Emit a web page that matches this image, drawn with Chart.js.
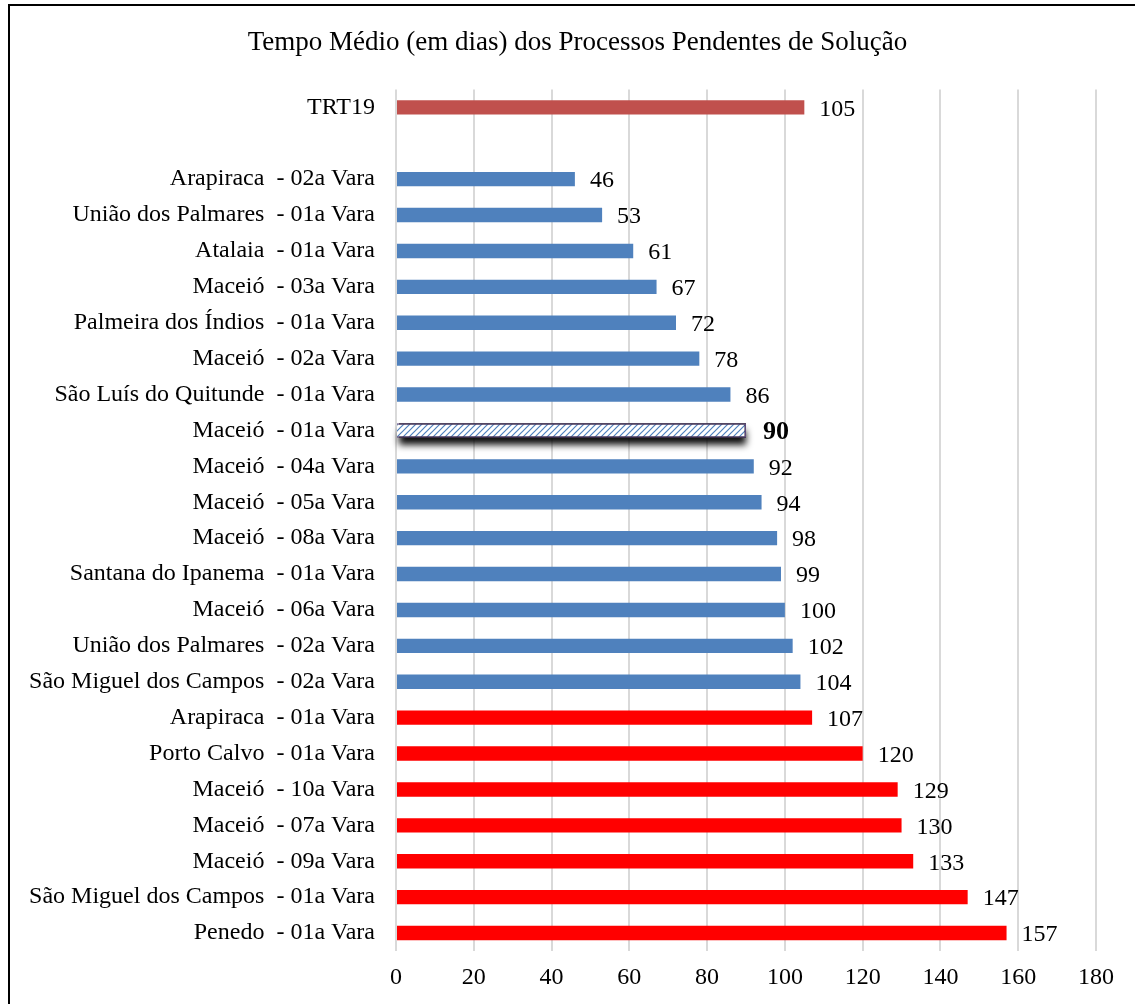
<!DOCTYPE html>
<html>
<head>
<meta charset="utf-8">
<script src="https://cdn.jsdelivr.net/npm/chart.js@4/dist/chart.umd.min.js"></script>
<style>
  html, body { margin: 0; padding: 0; background: #fff; overflow: hidden; }
  #wrap { position: absolute; left: 0; top: 0; width: 1155px; height: 1004px; }
  #frame { position: absolute; left: 8px; top: 4px; width: 1300px; height: 1100px;
           border-left: 2px solid #000; border-top: 2px solid #000; }
</style>
</head>
<body>
<div id="frame"></div>
<div id="wrap"><canvas id="myChart" width="1155" height="1004"></canvas></div>
<script>
// dados
const labels = [
    'TRT19', '',
    'Arapiraca  - 02a Vara',
    'União dos Palmares  - 01a Vara',
    'Atalaia  - 01a Vara',
    'Maceió  - 03a Vara',
    'Palmeira dos Índios  - 01a Vara',
    'Maceió  - 02a Vara',
    'São Luís do Quitunde  - 01a Vara',
    'Maceió  - 01a Vara',
    'Maceió  - 04a Vara',
    'Maceió  - 05a Vara',
    'Maceió  - 08a Vara',
    'Santana do Ipanema  - 01a Vara',
    'Maceió  - 06a Vara',
    'União dos Palmares  - 02a Vara',
    'São Miguel dos Campos  - 02a Vara',
    'Arapiraca  - 01a Vara',
    'Porto Calvo  - 01a Vara',
    'Maceió  - 10a Vara',
    'Maceió  - 07a Vara',
    'Maceió  - 09a Vara',
    'São Miguel dos Campos  - 01a Vara',
    'Penedo  - 01a Vara'
];
const values = [105, null, 46, 53, 61, 67, 72, 78, 86, 90, 92, 94, 98, 99, 100, 102, 104,
    107, 120, 129, 130, 133, 147, 157];
const xTicks = [0, 20, 40, 60, 80, 100, 120, 140, 160, 180];
const highlight = 'Maceió  - 01a Vara';

const serif = '"Liberation Serif", "Times New Roman", serif';

// padrão hachurado para a vara destacada
function makeHatch() {
    const c = document.createElement('canvas');
    c.width = 6; c.height = 6;
    const g = c.getContext('2d');
    g.fillStyle = '#ffffff';
    g.fillRect(0, 0, 6, 6);
    g.strokeStyle = '#4F81BD';
    g.lineWidth = 1.2;
    g.beginPath();
    g.moveTo(-1, 7); g.lineTo(7, -1);
    g.moveTo(-4, 4); g.lineTo(4, -4);
    g.moveTo(2, 10); g.lineTo(10, 2);
    g.stroke();
    return g.createPattern(c, 'repeat');
}
const hatch = makeHatch();

const colors = values.map((v, i) => {
    if (i === 0) return '#C0504D';
    if (labels[i] === highlight) return hatch;
    if (v > 105) return '#FF0000';
    return '#4F81BD';
});
const borders = labels.map(l => l === highlight ? '#5F497A' : 'rgba(0,0,0,0)');
const borderW = labels.map(l => l === highlight ? 1.5 : 0);

// sombra sob a barra destacada
const shadowPlugin = {
    id: 'shadowBar',
    beforeDatasetsDraw(chart) {
        const idx = labels.indexOf(highlight);
        const bar = chart.getDatasetMeta(0).data[idx];
        if (!bar) return;
        const ctx = chart.ctx;
        const h = bar.height;
        ctx.save();
        ctx.shadowColor = 'rgba(0,0,0,0.95)';
        ctx.shadowBlur = 7;
        ctx.shadowOffsetY = 7;
        ctx.fillStyle = '#000';
        ctx.fillRect(bar.base + 2, bar.y - h / 2, bar.x - bar.base - 2, h);
        ctx.restore();
    }
};

// rótulos de valor
const valueLabels = {
    id: 'valueLabels',
    afterDatasetsDraw(chart) {
        const ctx = chart.ctx;
        const meta = chart.getDatasetMeta(0);
        ctx.save();
        ctx.fillStyle = '#000';
        ctx.textBaseline = 'middle';
        ctx.textAlign = 'left';
        meta.data.forEach((bar, i) => {
            if (values[i] == null) return;
            const bold = labels[i] === highlight;
            ctx.font = (bold ? 'bold 26px ' : '24px ') + serif;
            ctx.fillText(String(values[i]), bar.x + (bold ? 17 : 15), bar.y + 2);
        });
        ctx.restore();
    }
};

const ctx = document.getElementById('myChart').getContext('2d');
const myChart = new Chart(ctx, {
    type: 'bar',
    data: {
        labels: labels,
        datasets: [{
            data: values,
            backgroundColor: colors,
            borderColor: borders,
            borderWidth: borderW,
            barPercentage: 0.4,
            categoryPercentage: 1
        }]
    },
    options: {
        indexAxis: 'y',
        responsive: false,
        animation: false,
        layout: { padding: 0 },
        plugins: {
            legend: { display: false },
            tooltip: { enabled: false },
            title: {
                display: true,
                text: 'Tempo Médio (em dias) dos Processos Pendentes de Solução',
                color: '#000',
                font: { family: serif, size: 27, weight: 'normal' },
                padding: { top: 27, bottom: 30 }
            }
        },
        scales: {
            x: {
                min: 0,
                max: 180,
                afterBuildTicks(scale) {
                    scale.ticks = xTicks.map(v => ({ value: v }));
                },
                afterFit(scale) {
                    scale.height = 53;
                    scale.paddingLeft = 0;
                    scale.paddingRight = 59;
                },
                grid: { color: '#D9D9D9', lineWidth: 2, drawTicks: false },
                border: { display: false },
                ticks: {
                    color: '#000',
                    padding: 12,
                    font: { family: serif, size: 24 }
                }
            },
            y: {
                afterFit(scale) { scale.width = 396; },
                grid: { display: false, drawTicks: false },
                border: { display: false },
                ticks: {
                    color: '#000',
                    padding: 21,
                    autoSkip: false,
                    font: { family: serif, size: 24 }
                }
            }
        }
    },
    plugins: [shadowPlugin, valueLabels]
});
</script>
</body>
</html>
